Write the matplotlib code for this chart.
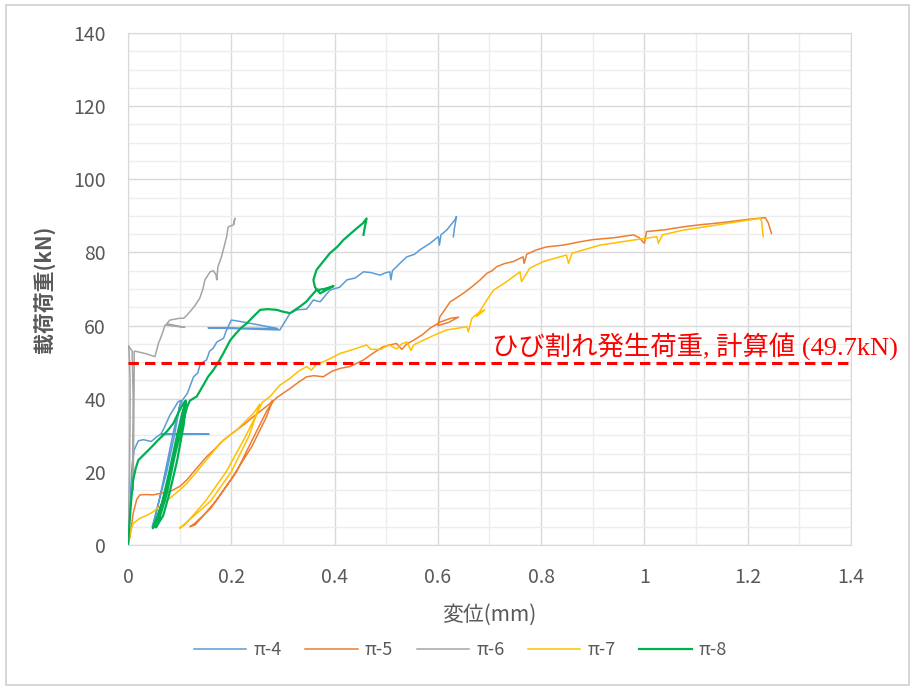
import matplotlib
matplotlib.use('Agg')
import matplotlib.pyplot as plt
from matplotlib.ticker import MultipleLocator
from matplotlib.patches import Rectangle

plt.rcParams['font.family'] = ['Noto Sans CJK JP', 'DejaVu Sans']

# load-displacement curves (x: mm, y: kN)
p4_x = [0, 0.004, 0.008, 0.012, 0.02, 0.03, 0.045, 0.055, 0.062, 0.157, 0.064, 0.07, 0.081, 0.09, 0.097, 0.102,
        0.09, 0.075, 0.06, 0.047, 0.05, 0.06, 0.075, 0.088, 0.1, 0.105,
        0.115, 0.127, 0.135, 0.14, 0.152, 0.158, 0.165, 0.172, 0.185, 0.19, 0.2, 0.21, 0.23, 0.26, 0.29, 0.155, 0.294,
        0.314, 0.327, 0.346, 0.359, 0.372, 0.391, 0.41, 0.424, 0.44, 0.456, 0.47, 0.488, 0.5, 0.507, 0.509, 0.512,
        0.52, 0.53, 0.54, 0.555, 0.565, 0.585, 0.601, 0.603, 0.606, 0.617, 0.625, 0.633, 0.636, 0.632, 0.63]
p4_y = [0, 12, 22, 26, 28.5, 28.8, 28.3, 29.5, 30.2, 30.3, 30.4, 32, 35.5, 37.5, 39.2, 39.5,
        30, 20, 12, 5, 6, 12, 22, 31, 38, 39.5,
        41.5, 46, 47, 49.5, 50.6, 53, 53.8, 55.5, 56.5, 58.5, 61.5, 61.3, 60.8, 60, 59.2, 59.4, 58.8,
        63.4, 64.3, 64.5, 67, 66.5, 69.7, 70.5, 72.5, 73, 74.7, 74.5, 73.8, 74.5, 74.7, 72.5, 75,
        76.1, 77.5, 78.8, 79.5, 80.7, 82.5, 84.3, 82, 84.8, 86.1, 87.5, 88.9, 89.8, 86.5, 84.3]

p5_x = [0, 0.004, 0.01, 0.017, 0.023, 0.035, 0.049, 0.065, 0.081, 0.1, 0.114, 0.13, 0.152, 0.17, 0.185, 0.21,
        0.225, 0.243, 0.26, 0.275, 0.28,
        0.268, 0.24, 0.2, 0.16, 0.13, 0.12, 0.13, 0.17, 0.21, 0.245, 0.27, 0.282,
        0.29, 0.314, 0.33, 0.346, 0.36, 0.378, 0.395, 0.411, 0.43, 0.445, 0.456, 0.475, 0.494, 0.51, 0.52, 0.53,
        0.54, 0.553, 0.57, 0.585, 0.605, 0.625, 0.64, 0.62, 0.6, 0.604, 0.624, 0.635, 0.649, 0.665, 0.682, 0.695,
        0.705, 0.714, 0.73, 0.746, 0.765, 0.767, 0.772, 0.791, 0.81, 0.843, 0.875, 0.9, 0.94, 0.979, 0.99, 1.0,
        1.004, 1.04, 1.075, 1.11, 1.14, 1.17, 1.198, 1.234, 1.24, 1.246]
p5_y = [0, 2.3, 8.7, 12.5, 13.7, 13.8, 13.7, 14.2, 14.6, 16, 17.8, 20.5, 24.1, 26.5, 28.7, 31.4,
        33, 35.1, 37, 38.7, 39.5,
        35, 27, 18, 10, 6, 5, 5.5, 12, 20, 30, 37, 39.5,
        40.5, 42.8, 44.5, 46, 46.3, 46, 47.5, 48.3, 48.8, 49.8, 50.6, 52.5, 54.2, 54.8, 55.1, 53.5,
        55, 56, 57.5, 59.3, 61, 62, 62.3, 60.8, 60, 62.4, 66.5, 67.5, 68.8, 70.5, 72.5, 74.3,
        75, 76.1, 77, 77.5, 78.8, 77, 79.5, 80.7, 81.5, 82, 82.9, 83.5, 84, 84.8, 84, 82.5,
        85.7, 86.2, 87, 87.6, 88, 88.5, 89, 89.5, 88, 85.2]

p6_x = [0, 0.003, 0.004, 0.004, 0.003, 0.002, 0.001, 0.008, 0.01, 0.009, 0.01, 0.011, 0.012, 0.012, 0.017,
        0.035, 0.052, 0.056, 0.059, 0.063, 0.068, 0.072, 0.11, 0.075, 0.081, 0.1, 0.108, 0.115, 0.123, 0.13,
        0.139, 0.145, 0.149, 0.159, 0.165, 0.17, 0.172, 0.174, 0.181, 0.186, 0.191, 0.194, 0.198, 0.204, 0.207, 0.205]
p6_y = [0, 20, 35, 45, 50, 53, 54.5, 53, 40, 20, 15, 30, 48, 53, 52.9,
        52.3, 51.5, 53.5, 55.2, 56.5, 58.5, 60.2, 59.5, 60.5, 61.5, 62, 62, 63, 64.3, 65.5,
        67.5, 70, 72.5, 74.7, 75, 74, 72.5, 76, 78.8, 81.5, 84.3, 87, 87.2, 87.5, 89.3, 87.8]

p7_x = [0, 0.004, 0.01, 0.023, 0.035, 0.049, 0.065, 0.081, 0.1, 0.114, 0.13, 0.146, 0.162, 0.178, 0.195, 0.21,
        0.225, 0.243, 0.255,
        0.235, 0.2, 0.16, 0.12, 0.1, 0.11, 0.15, 0.19, 0.225, 0.25, 0.26,
        0.275, 0.294, 0.314, 0.33, 0.346, 0.355, 0.365, 0.378, 0.395, 0.411, 0.43, 0.443, 0.462, 0.47, 0.49,
        0.505, 0.52, 0.53, 0.54, 0.548, 0.553, 0.572, 0.595, 0.617, 0.64, 0.656, 0.659, 0.666, 0.678, 0.691,
        0.675, 0.695, 0.708, 0.733, 0.759, 0.762, 0.778, 0.804, 0.849, 0.853, 0.86, 0.914, 0.979, 1.024, 1.027,
        1.035, 1.075, 1.14, 1.204, 1.224, 1.227, 1.23]
p7_y = [0, 3.2, 5.9, 7.3, 8, 9.1, 11, 12.8, 15, 16.9, 19.5, 22.3, 25, 27.8, 29.8, 31.4,
        33.5, 36, 38.5,
        30, 20, 12, 7, 4.6, 5.5, 12, 20, 29, 36, 39,
        40.6, 43.7, 45.6, 47.5, 48.8, 47.8, 49.5, 50.1, 51.2, 52.4, 53.2, 53.8, 54.7, 53.5, 53.5,
        54.8, 53.6, 55, 55.5, 53.2, 54.7, 56, 57.5, 58.8, 59.3, 59.7, 58.3, 62, 63.4, 64.3,
        62.5, 67, 69.7, 72, 74.7, 72, 75.7, 77.5, 79.3, 77, 79.8, 82, 83.4, 84.3, 82.5,
        84.8, 86.1, 87.5, 88.9, 89.3, 88.5, 84.3]

p8_x = [0, 0.003, 0.006, 0.01, 0.015, 0.02, 0.03, 0.04, 0.049, 0.057, 0.065, 0.075, 0.088, 0.097, 0.107, 0.112,
        0.1, 0.085, 0.07, 0.055, 0.048, 0.052, 0.065, 0.08, 0.095, 0.105, 0.112,
        0.108, 0.095, 0.08, 0.068, 0.054, 0.058, 0.075, 0.09, 0.105, 0.115,
        0.12, 0.133, 0.145, 0.155, 0.165, 0.175, 0.185, 0.198, 0.21, 0.22, 0.23, 0.243, 0.256, 0.27, 0.288,
        0.3, 0.314, 0.333, 0.345, 0.359, 0.365, 0.38, 0.398, 0.372, 0.362, 0.359, 0.365, 0.375, 0.391,
        0.405, 0.417, 0.43, 0.443, 0.455, 0.462, 0.458, 0.456]
p8_y = [0, 6, 12, 17.8, 21, 23.2, 24.6, 26, 27.3, 28.5, 29.6, 31, 33.3, 36, 38.7, 39.5,
        32, 22, 13, 7, 4.6, 5.5, 11, 20, 30, 36, 39,
        33, 23, 14, 8, 4.8, 6, 14, 24, 33, 38,
        39.5, 40.6, 43.5, 46, 47.8, 50, 52.5, 56, 58, 59.5, 60.6, 62.5, 64.3, 64.5, 64.3,
        63.8, 63.4, 65.2, 66.5, 68.8, 69.7, 70, 70.8, 68.8, 70.5, 72.5, 75.2, 77, 79.8,
        81.5, 83.4, 85, 86.6, 88, 89.3, 86.5, 84.8]

series_names = ['π-4', 'π-5', 'π-6', 'π-7', 'π-8']
series_colors = ['#5B9BD5', '#ED7D31', '#A5A5A5', '#FFC000', '#00B050']
crack_load = 49.7
crack_label = 'ひび割れ発生荷重, 計算値 (49.7kN)'

fig = plt.figure(figsize=(9.12, 6.88), dpi=100)
ax = fig.add_axes([128/912, 1-545/688, (851-128)/912, (545-33)/688])

data = [(p4_x, p4_y), (p5_x, p5_y), (p6_x, p6_y), (p7_x, p7_y), (p8_x, p8_y)]
for (xs, ys), name, c in zip(data, series_names, series_colors):
    lw = 1.6 if name == 'π-8' else 1.1
    ax.plot(xs, ys, color=c, lw=lw, label=name, zorder=3)

ax.plot([0, 1.4], [crack_load, crack_load], color='#FF0000', lw=2.2,
        dashes=(3.4, 2.0), zorder=4)
ax.text(0.705, 54.3, crack_label, color='#FF0000', fontsize=19,
        family=['Liberation Serif', 'Noto Sans CJK JP'], va='center', ha='left',
        clip_on=False, zorder=5)

ax.set_xlim(0, 1.4)
ax.set_ylim(0, 140)
ax.xaxis.set_major_locator(MultipleLocator(0.2))
ax.xaxis.set_minor_locator(MultipleLocator(0.1))
ax.yaxis.set_major_locator(MultipleLocator(20))
ax.yaxis.set_minor_locator(MultipleLocator(5))
ax.set_xticks([0, 0.2, 0.4, 0.6, 0.8, 1.0, 1.2, 1.4])
ax.set_xticklabels(['0', '0.2', '0.4', '0.6', '0.8', '1', '1.2', '1.4'])
ax.grid(which='major', color='#D9D9D9', lw=1.0, zorder=0)
ax.grid(which='minor', color='#EDEDED', lw=1.0, zorder=0)
ax.set_axisbelow(True)
ax.tick_params(which='both', length=0, labelsize=14, labelcolor='#595959')
ax.tick_params(axis='y', pad=16)
ax.tick_params(axis='x', pad=16)
for s in ax.spines.values():
    s.set_color('#D9D9D9')

ax.set_xlabel('変位(mm)', fontsize=15, color='#595959', labelpad=11)
ax.set_ylabel('載荷荷重(kN)', fontsize=15, color='#595959', fontweight='bold', labelpad=12)

fig.legend(loc='center', bbox_to_anchor=(0.505, 0.055), ncol=5, frameon=False,
           fontsize=13, labelcolor='#595959', handlelength=2.9, columnspacing=1.3,
           handletextpad=0.4)

fig.patches.append(Rectangle((6/912, 3/688), 903/912, 680/688, transform=fig.transFigure,
                             fill=False, edgecolor='#D0D0D0', lw=1.2))

fig.savefig('out.png', dpi=100)
